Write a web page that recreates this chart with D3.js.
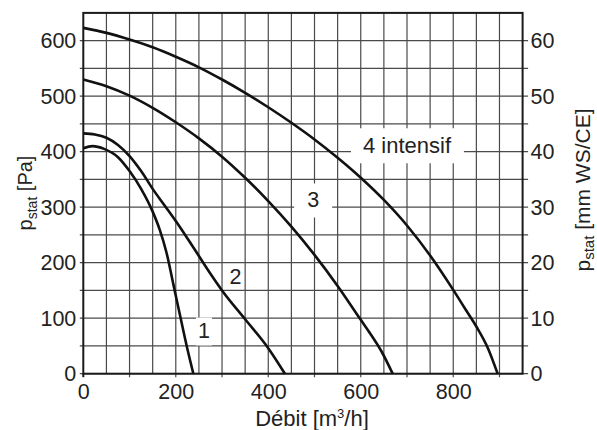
<!DOCTYPE html>
<html>
<head>
<meta charset="utf-8">
<script src="https://cdn.jsdelivr.net/npm/d3@7"></script>
<style>
  html, body { margin: 0; padding: 0; background: #fff; }
  svg { display: block; }
  text { font-family: "Liberation Sans", Arial, Helvetica, sans-serif; fill: #222; }
</style>
</head>
<body>
<svg id="chart" width="597" height="430"></svg>
<script>
// Fan characteristic curves: static pressure [Pa] against air flow [m3/h]
const flowTicks = [0, 200, 400, 600, 800];
const paTicks = [0, 100, 200, 300, 400, 500, 600];
const mmTicks = [0, 10, 20, 30, 40, 50, 60];

const speed1 = [[0, 406], [20, 410], [45, 405], [75, 390], [100, 365], [125, 333], [150, 292], [165, 260], [180, 218], [195, 160], [210, 102], [225, 45], [238, 0]];
const speed2 = [[0, 433], [25, 431], [50, 425], [75, 412], [100, 392], [125, 365], [150, 333], [175, 304], [200, 275], [225, 244], [250, 212], [275, 180], [300, 150], [350, 98], [400, 46], [436, 0]];
const speed3 = [[0, 530], [50, 518], [100, 501], [150, 479], [200, 453], [250, 424], [300, 391], [350, 353], [400, 311], [450, 265], [500, 214], [550, 158], [600, 97], [620, 73], [645, 40], [669, 0]];
const speed4 = [[0, 623], [50, 614], [100, 602], [150, 588], [200, 571], [250, 552], [300, 530], [350, 506], [400, 480], [450, 452], [500, 422], [550, 389], [600, 353], [650, 313], [700, 267], [750, 213], [800, 151], [825, 118], [850, 85], [875, 46], [896, 0]];

const curveNames = ["1", "2", "3", "4 intensif"];
// label anchors in data units (flow, pressure)
const labelFlow = [261, 329, 497, 700];
const labelPa = [77, 175, 313, 411];

const svg = d3.select("#chart");

const x = d3.scaleLinear().domain([0, 950]).range([83.3, 522.6]);
const y = d3.scaleLinear().domain([0, 650]).range([373.7, 12.9]);
const yMm = d3.scaleLinear().domain([0, 65]).range([373.7, 12.9]);

// grid
const grid = svg.append("g").attr("stroke", "#4a4a4a").attr("stroke-width", 1.2);
grid.selectAll("line.h")
  .data(d3.range(0, 650, 50))
  .join("line")
  .attr("class", "h")
  .attr("x1", x(0) - 3.5).attr("x2", x(950) + 5.5)
  .attr("y1", d => y(d)).attr("y2", d => y(d));
grid.selectAll("line.v")
  .data(d3.range(50, 950, 50))
  .join("line")
  .attr("class", "v")
  .attr("x1", d => x(d)).attr("x2", d => x(d))
  .attr("y1", y(650))
  .attr("y2", d => d % 100 === 0 ? y(0) + 3.5 : y(0));

// frame
svg.append("rect")
  .attr("x", x(0)).attr("y", y(650))
  .attr("width", x(950) - x(0)).attr("height", y(0) - y(650))
  .attr("fill", "none").attr("stroke", "#1a1a1a").attr("stroke-width", 2);
svg.append("line")
  .attr("x1", x(0)).attr("x2", x(0)).attr("y1", y(0)).attr("y2", y(0) + 3.5)
  .attr("stroke", "#1a1a1a").attr("stroke-width", 2);

// curve labels on white patches that cut the grid
const labelSize = [21.5, 21.5, 21.5, 22];
const padX = [2, 2, 13, 12];
const padY = [2, 0, 5, 5];
const labels = svg.append("g");
curveNames.forEach((name, i) => {
  const t = labels.append("text")
    .attr("x", x(labelFlow[i]))
    .attr("y", y(labelPa[i]))
    .attr("dy", "0.35em")
    .attr("text-anchor", "middle")
    .attr("font-size", labelSize[i])
    .text(name);
  const b = t.node().getBBox();
  if (i !== 1) {
    labels.insert("rect", "text")
      .attr("x", b.x - padX[i]).attr("y", b.y - padY[i])
      .attr("width", b.width + 2 * padX[i]).attr("height", b.height + 2 * padY[i])
      .attr("fill", "#fff");
  }
});

// curves
const line = d3.line()
  .x(d => x(d[0]))
  .y(d => y(d[1]))
  .curve(d3.curveMonotoneX);
svg.append("g")
  .selectAll("path")
  .data([speed1, speed2, speed3, speed4])
  .join("path")
  .attr("d", line)
  .attr("fill", "none")
  .attr("stroke", "#111")
  .attr("stroke-width", 2.6)
  .attr("stroke-linecap", "butt");

// axes (labels only, the grid carries the ticks)
function styleAxis(g) {
  g.select(".domain").remove();
  g.selectAll("text").attr("font-size", 21.5).attr("fill", "#222")
    .style("font-family", '"Liberation Sans", Arial, Helvetica, sans-serif');
}
svg.append("g")
  .attr("transform", `translate(${x(0)},0)`)
  .call(d3.axisLeft(y).tickValues(paTicks).tickSize(0).tickPadding(7))
  .call(styleAxis);
svg.append("g")
  .attr("transform", `translate(${x(950)},0)`)
  .call(d3.axisRight(yMm).tickValues(mmTicks).tickSize(0).tickPadding(8))
  .call(styleAxis);
svg.append("g")
  .attr("transform", `translate(0,${y(0)})`)
  .call(d3.axisBottom(x).tickValues(flowTicks).tickSize(0).tickPadding(10.3))
  .call(styleAxis);

// axis titles
const xt = svg.append("text")
  .attr("x", 312).attr("y", 425.5)
  .attr("text-anchor", "middle")
  .attr("font-size", 22);
xt.append("tspan").text("Débit [m");
xt.append("tspan").attr("font-size", 13).attr("dy", -8).text("3");
xt.append("tspan").attr("dy", 8).text("/h]");

const yl = svg.append("text")
  .attr("transform", `translate(32,193) rotate(-90)`)
  .attr("text-anchor", "middle")
  .attr("font-size", 20);
yl.append("tspan").text("p");
yl.append("tspan").attr("font-size", 14).attr("dy", 5).text("stat");
yl.append("tspan").attr("dy", -5).text(" [Pa]");

const yr = svg.append("text")
  .attr("transform", `translate(590,190) rotate(-90)`)
  .attr("text-anchor", "middle")
  .attr("font-size", 21);
yr.append("tspan").text("p");
yr.append("tspan").attr("font-size", 15).attr("dy", 4).text("stat");
yr.append("tspan").attr("dy", -4).text(" [mm WS/CE]");
</script>
</body>
</html>
